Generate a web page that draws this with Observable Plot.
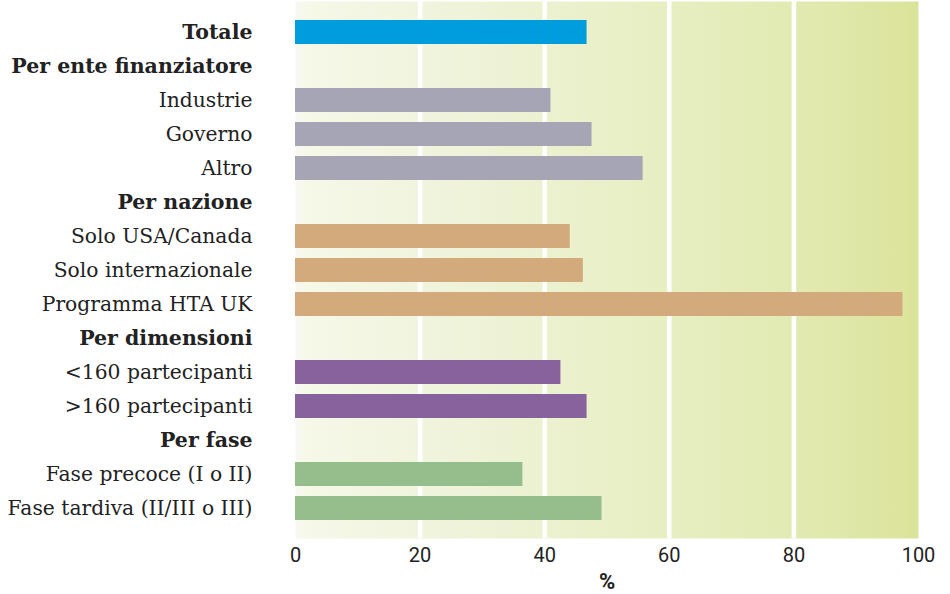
<!DOCTYPE html>
<html>
<head>
<meta charset="utf-8">
<script src="https://cdn.jsdelivr.net/npm/d3@7"></script>
<script src="https://cdn.jsdelivr.net/npm/@observablehq/plot@0.6"></script>
<style>
  html, body { margin: 0; padding: 0; background: #ffffff; }
  #chart svg { display: block; }
</style>
</head>
<body>
<div id="chart"></div>
<script>
// Row order, top to bottom (group headings included so they take a row)
const rows = [
  "Totale",
  "Per ente finanziatore", "Industrie", "Governo", "Altro",
  "Per nazione", "Solo USA/Canada", "Solo internazionale", "Programma HTA UK",
  "Per dimensioni", "<160 partecipanti", ">160 partecipanti",
  "Per fase", "Fase precoce (I o II)", "Fase tardiva (II/III o III)"
];
const headings = ["Totale", "Per ente finanziatore", "Per nazione", "Per dimensioni", "Per fase"];

// Bars: label, percentage, group
const barLabels = [
  "Totale",
  "Industrie", "Governo", "Altro",
  "Solo USA/Canada", "Solo internazionale", "Programma HTA UK",
  "<160 partecipanti", ">160 partecipanti",
  "Fase precoce (I o II)", "Fase tardiva (II/III o III)"
];
const barValues = [46.8, 41.0, 47.6, 55.8, 44.1, 46.2, 97.5, 42.6, 46.8, 36.5, 49.2];
const barGroups = [
  "totale",
  "ente", "ente", "ente",
  "nazione", "nazione", "nazione",
  "dimensioni", "dimensioni",
  "fase", "fase"
];
const groupNames = ["totale", "ente", "nazione", "dimensioni", "fase"];
const groupColors = ["#009ddd", "#a6a5b5", "#d2aa7c", "#87629c", "#96be8c"];

const xTicks = [0, 20, 40, 60, 80, 100];
const gridValues = [20, 40, 60, 80];

const bars = barLabels.map((label, i) => ({label, value: barValues[i], group: barGroups[i]}));
const plainLabels = rows.filter(r => !headings.includes(r));

const serif = "'DejaVu Serif', serif";

const chart = Plot.plot({
  width: 950,
  height: 594,
  marginLeft: 295,
  marginRight: 32,
  marginTop: 1,
  marginBottom: 56,
  style: {background: "#ffffff", color: "#222"},
  x: {domain: [0, 100], ticks: xTicks, label: null},
  y: {domain: rows, paddingInner: 0.297, paddingOuter: 0.527, axis: null},
  color: {domain: groupNames, range: groupColors},
  marks: [
    Plot.frame({fill: "url(#bg-gradient)", stroke: "none"}),
    Plot.ruleX(gridValues, {stroke: "#ffffff", strokeWidth: 4.5}),
    Plot.barX(bars, {x: "value", y: "label", fill: "group"}),
    Plot.axisX({
      ticks: xTicks,
      tickSize: 0,
      tickPadding: 9,
      fontSize: 20,
      fontFamily: "Roboto, sans-serif",
      fill: "#222",
      label: null
    }),
    Plot.text(["%"], {
      frameAnchor: "bottom",
      dy: 50,
      fontSize: 22,
      fontWeight: "bold",
      fontFamily: "Roboto, sans-serif",
      fill: "#222"
    }),
    Plot.text(plainLabels, {
      x: 0, y: d => d, text: d => d,
      textAnchor: "end", dx: -43,
      fontSize: 20.3, fontFamily: serif, fill: "#222"
    }),
    Plot.text(headings, {
      x: 0, y: d => d, text: d => d,
      textAnchor: "end", dx: -43,
      fontSize: 20.5, fontWeight: "bold", fontFamily: serif, fill: "#222"
    })
  ]
});

// Background gradient: pale on the left, yellow-green on the right
const defs = d3.select(chart).insert("defs", ":first-child");
const grad = defs.append("linearGradient")
  .attr("id", "bg-gradient")
  .attr("x1", "0").attr("x2", "1").attr("y1", "0").attr("y2", "0");
[
  [0, "#f8f8f2"], [0.02, "#f6f8e8"], [0.2, "#f1f4de"], [0.4, "#ecf1d0"],
  [0.6, "#e7eec1"], [0.8, "#e2eab3"], [1, "#dbe39a"]
].forEach(([o, c]) => grad.append("stop").attr("offset", o).attr("stop-color", c));

document.getElementById("chart").appendChild(chart);
</script>
</body>
</html>
